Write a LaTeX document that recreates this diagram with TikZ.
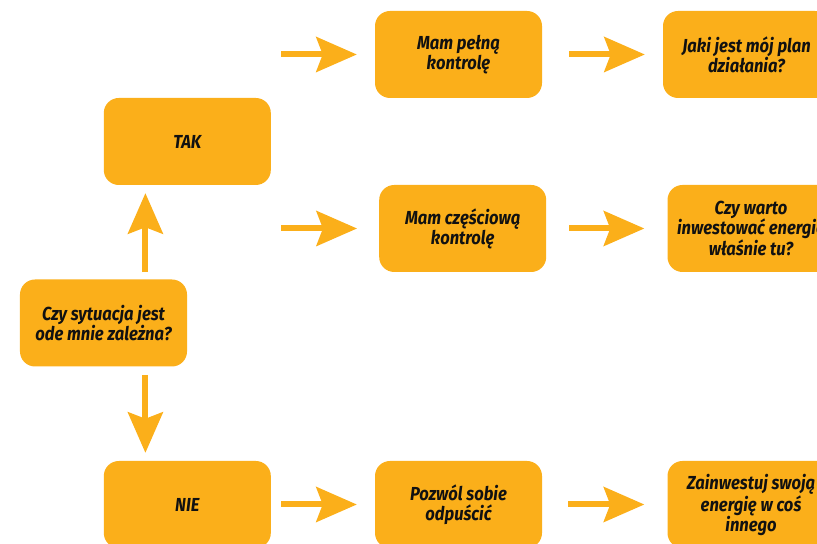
\documentclass[tikz,border=0pt]{standalone}
\usepackage{fontspec}
\setmainfont{Fira Sans}
\newfontfamily\narrowfira[FakeStretch=0.88]{Fira Sans}
\usetikzlibrary{arrows.meta,positioning,calc}
\definecolor{amber}{HTML}{FBAF1A}
\definecolor{ink}{HTML}{111111}
\newcommand{\boxfont}{\narrowfira\fontsize{13.4}{14.2}\selectfont\bfseries\itshape}
\tikzset{
  stepbox/.style={fill=amber,rounded corners=3.75mm,minimum width=41.75mm,minimum height=21.75mm,
    align=center,text=ink,font=\boxfont,inner sep=0},
  arr/.style={amber,line width=1.5mm,-{Stealth[length=10.25mm,width=9mm,inset=1.75mm,line width=0pt]}}
}
\begin{document}
\begin{tikzpicture}[x=0.25mm,y=0.25mm]
\useasboundingbox (0,0) rectangle (817,544);
% question and the two answers
\node[stepbox] (q) at (103.5,221) {Czy sytuacja jest\\ode mnie zależna?};
\node[stepbox] (tak) at (187.3,402.5) {TAK};
\node[stepbox] (nie) at (187.3,39.5) {NIE};
% middle column
\node[stepbox] (pelna) at (458.5,489.5) {Mam pełną\\kontrolę};
\node[stepbox] (czesc) at (462.7,315.5) {Mam częściową\\kontrolę};
\node[stepbox] (odpusc) at (458.5,39.5) {Pozwól sobie\\odpuścić};
% right column, cut by the edge
\node[stepbox] (plan) at (746.5,489.5) {Jaki jest mój plan\\działania?};
\node[stepbox] (warto) at (751,315.5) {Czy warto\\inwestować energię\\właśnie tu?};
\node[stepbox] (inne) at (751,39.5) {Zainwestuj swoją\\energię w coś\\innego};
\coordinate (mid) at ($(q.north east)!0.5!(tak.south west)$);
\draw[arr,shorten <=1.75mm,shorten >=2mm] (mid |- q.north) -- (mid |- tak.south);
\draw[arr,shorten <=2mm,shorten >=2mm] (mid |- q.south) -- (mid |- nie.north);
\draw[arr,shorten <=2.5mm,shorten >=4.5mm] (tak.east |- pelna.west) -- (pelna.west);
\draw[arr,shorten <=2.5mm,shorten >=5.5mm] (tak.east |- czesc.west) -- (czesc.west);
\draw[arr,shorten <=2.5mm,shorten >=4.5mm] (nie.east) -- (odpusc.west);
\draw[arr,shorten <=6.75mm,shorten >=4.5mm] (pelna.east) -- (plan.west);
\draw[arr,shorten <=5.75mm,shorten >=5.75mm] (czesc.east) -- (warto.west);
\draw[arr,shorten <=6.5mm,shorten >=5.75mm] (odpusc.east) -- (inne.west);
\end{tikzpicture}
\end{document}
